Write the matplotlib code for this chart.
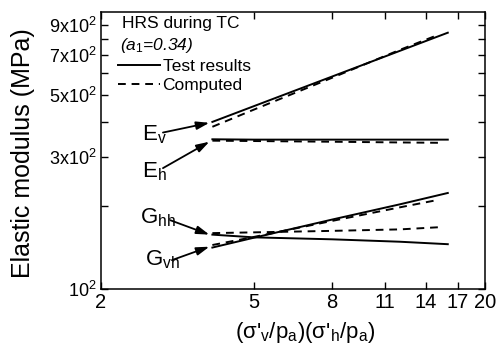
import matplotlib
matplotlib.use("Agg")
import matplotlib.pyplot as plt
from matplotlib.lines import Line2D
from matplotlib.ticker import NullLocator, NullFormatter

plt.rcParams['font.family'] = 'Liberation Sans'
plt.rcParams['mathtext.fontset'] = 'custom'
plt.rcParams['mathtext.rm'] = 'Liberation Sans'
plt.rcParams['mathtext.it'] = 'Liberation Sans:italic'

# stress product (sigma'v/pa)(sigma'h/pa)
x_test = [3.9, 5, 8, 12, 16]
x_comp = [3.9, 5, 8, 12, 15.2]

# elastic moduli, MPa
ev_test = [401, 457, 585, 724, 842]
ev_comp = [385, 444, 579, 730, 830]
eh_test = [347, 346, 346, 346, 346]
eh_comp = [343, 342, 340, 338, 337]
gvh_test = [141, 153, 178, 202, 222]
gvh_comp = [144, 154, 176, 197, 210]
ghh_test = [157, 153.5, 151, 148, 145]
ghh_comp = [159, 160, 162, 164, 167]

xticks = [2, 5, 8, 11, 14, 17, 20]
yticks = [100, 300, 500, 700, 900]
yticklabels = ['10$^2$', '3x10$^2$', '5x10$^2$', '7x10$^2$', '9x10$^2$']
yminor = [200, 400, 600, 800]

fig = plt.figure(figsize=(5, 3.54), dpi=100)
ax = fig.add_axes([0.202, 0.184, 0.768, 0.782])

for yt, yc in [(ev_test, ev_comp), (eh_test, eh_comp),
               (gvh_test, gvh_comp), (ghh_test, ghh_comp)]:
    ax.plot(x_test, yt, color='k', lw=1.4)
    ax.plot(x_comp, yc, color='k', lw=1.4, ls='--', dashes=(4, 3))

ax.set_xscale('log')
ax.set_yscale('log')
ax.set_xlim(2, 20)
ax.set_ylim(100, 1000)

ax.set_xticks(xticks)
ax.set_xticklabels([str(t) for t in xticks])
ax.xaxis.set_minor_locator(NullLocator())
ax.set_yticks(yticks)
ax.set_yticklabels(yticklabels)
ax.set_yticks(yminor, minor=True)
ax.yaxis.set_minor_formatter(NullFormatter())
ax.tick_params(which='both', direction='in', top=True, right=True,
               length=5, width=1)
ax.tick_params(axis='x', labelsize=14.5, pad=3)
ax.tick_params(axis='y', labelsize=13, pad=3)
for s in ax.spines.values():
    s.set_linewidth(1.1)

# header and legend
ax.text(0.055, 0.985, 'HRS during TC', transform=ax.transAxes,
        fontsize=12.5, va='top', ha='left')
ax.text(0.05, 0.915, '($a_\\mathrm{1}$=0.34)', transform=ax.transAxes,
        fontsize=12.5, va='top', ha='left', style='italic')
handles = [Line2D([], [], color='k', lw=1.4),
           Line2D([], [], color='k', lw=1.4, ls='--', dashes=(4, 3))]
ax.legend(handles, ['Test results', 'Computed'], loc='upper left',
          bbox_to_anchor=(0.045, 0.83), frameon=False, fontsize=12.5,
          handlelength=2.4, handletextpad=0.15, labelspacing=0.2,
          borderpad=0, borderaxespad=0)

# curve labels with arrows
arrow = dict(arrowstyle='-|>,head_length=0.7,head_width=0.22', color='k',
             lw=1.3, mutation_scale=11, shrinkA=0, shrinkB=0)
ax.text(2.56, 343, 'E$_\\mathrm{v}$', fontsize=16, ha='left', va='baseline')
ax.annotate('', xy=(3.83, 398), xytext=(2.90, 367), arrowprops=arrow)
ax.text(2.56, 252, 'E$_\\mathrm{h}$', fontsize=16, ha='left', va='baseline')
ax.annotate('', xy=(3.83, 340), xytext=(2.90, 273), arrowprops=arrow)
ax.text(2.53, 173, 'G$_\\mathrm{hh}$', fontsize=16, ha='left', va='baseline')
ax.annotate('', xy=(3.83, 157), xytext=(3.03, 177), arrowprops=arrow)
ax.text(2.61, 122, 'G$_\\mathrm{vh}$', fontsize=16, ha='left', va='baseline')
ax.annotate('', xy=(3.83, 142), xytext=(3.06, 127), arrowprops=arrow)

fig.text(0.046, 0.568, 'Elastic modulus (MPa)', rotation=90,
         ha='center', va='center', fontsize=18)
fig.text(0.61, 0.062, "(σ'$_\\mathrm{v}$/p$_\\mathrm{a}$)(σ'$_\\mathrm{h}$/p$_\\mathrm{a}$)",
         ha='center', va='center', fontsize=16)

fig.savefig('out.png', dpi=100)
